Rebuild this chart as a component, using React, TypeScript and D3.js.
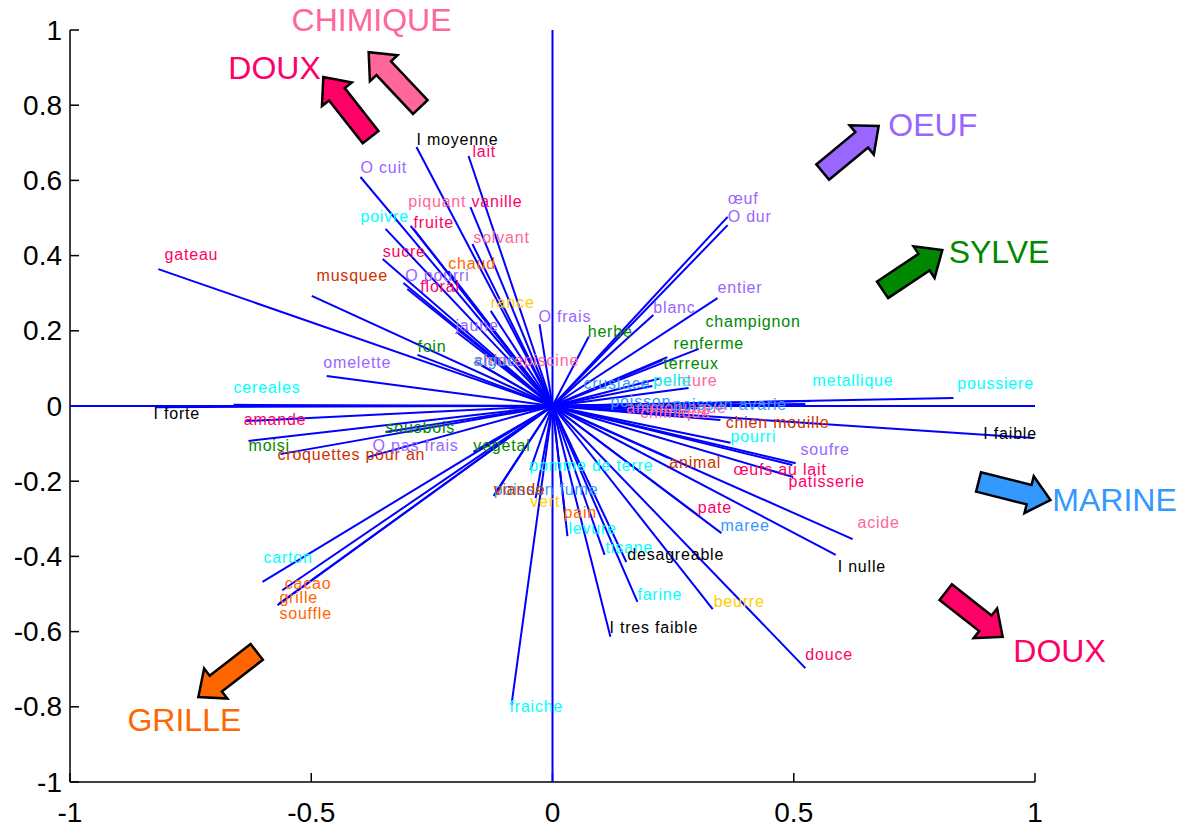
import React from 'react';
import * as d3 from 'd3';

// Odour descriptors per sensory family: vector end (x, y) and label anchor (lx, ly), in loading units
type Term = { term: string; x: number; y: number; lx: number; ly: number };

const oeufTerms: Term[] = [
  { term: 'O cuit', x: -0.398, y: 0.609, lx: -0.398, ly: 0.633 },
  { term: 'O pourri', x: -0.309, y: 0.327, lx: -0.305, ly: 0.346 },
  { term: 'jaune', x: -0.199, y: 0.197, lx: -0.201, ly: 0.215 },
  { term: 'O frais', x: -0.027, y: 0.218, lx: -0.029, ly: 0.237 },
  { term: 'blanc', x: 0.209, y: 0.242, lx: 0.209, ly: 0.263 },
  { term: 'entier', x: 0.342, y: 0.287, lx: 0.342, ly: 0.314 },
  { term: 'œuf', x: 0.363, y: 0.503, lx: 0.363, ly: 0.553 },
  { term: 'O dur', x: 0.363, y: 0.481, lx: 0.363, ly: 0.503 },
  { term: 'omelette', x: -0.468, y: 0.08, lx: -0.475, ly: 0.117 },
  { term: 'O pas frais', x: -0.383, y: -0.136, lx: -0.373, ly: -0.104 },
  { term: 'soufre', x: 0.504, y: -0.152, lx: 0.514, ly: -0.117 },
];

const douxTerms: Term[] = [
  { term: 'lait', x: -0.174, y: 0.665, lx: -0.166, ly: 0.676 },
  { term: 'vanille', x: -0.17, y: 0.529, lx: -0.168, ly: 0.545 },
  { term: 'fruite', x: -0.288, y: 0.471, lx: -0.288, ly: 0.487 },
  { term: 'gateau', x: -0.817, y: 0.364, lx: -0.804, ly: 0.402 },
  { term: 'sucre', x: -0.352, y: 0.391, lx: -0.352, ly: 0.41 },
  { term: 'floral', x: -0.301, y: 0.311, lx: -0.274, ly: 0.319 },
  { term: 'amande', x: -0.636, y: -0.04, lx: -0.64, ly: -0.037 },
  { term: 'œufs au lait', x: 0.497, y: -0.157, lx: 0.375, ly: -0.168 },
  { term: 'patisserie', x: 0.499, y: -0.189, lx: 0.489, ly: -0.202 },
  { term: 'pate', x: 0.301, y: -0.29, lx: 0.301, ly: -0.271 },
  { term: 'douce', x: 0.524, y: -0.697, lx: 0.524, ly: -0.66 },
];

const chimiqueTerms: Term[] = [
  { term: 'piquant', x: -0.294, y: 0.479, lx: -0.299, ly: 0.543 },
  { term: 'solvant', x: -0.166, y: 0.431, lx: -0.164, ly: 0.449 },
  { term: 'chlorepiscine', x: -0.15, y: 0.11, lx: -0.16, ly: 0.122 },
  { term: 'peinture', x: 0.282, y: 0.048, lx: 0.209, ly: 0.069 },
  { term: 'ammoniaque', x: 0.3, y: -0.006, lx: 0.153, ly: -0.003 },
  { term: 'chimique', x: 0.28, y: -0.015, lx: 0.182, ly: -0.016 },
  { term: 'acide', x: 0.622, y: -0.354, lx: 0.632, ly: -0.311 },
];

const sylveTerms: Term[] = [
  { term: 'herbe', x: 0.075, y: 0.184, lx: 0.073, ly: 0.199 },
  { term: 'champignon', x: 0.228, y: 0.122, lx: 0.317, ly: 0.226 },
  { term: 'renferme', x: 0.303, y: 0.152, lx: 0.251, ly: 0.165 },
  { term: 'terreux', x: 0.238, y: 0.13, lx: 0.23, ly: 0.112 },
  { term: 'foin', x: -0.28, y: 0.136, lx: -0.28, ly: 0.157 },
  { term: 'sousbois', x: -0.346, y: -0.069, lx: -0.346, ly: -0.056 },
  { term: 'moisi', x: -0.63, y: -0.093, lx: -0.63, ly: -0.106 },
  { term: 'vegetal', x: -0.164, y: -0.122, lx: -0.164, ly: -0.104 },
];

const marineTerms: Term[] = [
  { term: 'algue', x: -0.16, y: 0.118, lx: -0.164, ly: 0.122 },
  { term: 'crustace', x: 0.207, y: 0.053, lx: 0.064, ly: 0.059 },
  { term: 'poisson', x: 0.182, y: 0.005, lx: 0.12, ly: 0.011 },
  { term: 'poisson avarie', x: 0.524, y: 0.005, lx: 0.249, ly: 0.003 },
  { term: 'maree', x: 0.35, y: -0.338, lx: 0.348, ly: -0.319 },
  { term: 'poisson fume', x: -0.118, y: -0.231, lx: -0.122, ly: -0.223 },
];

const grilleTerms: Term[] = [
  { term: 'chaud', x: -0.216, y: 0.359, lx: -0.216, ly: 0.378 },
  { term: 'pain', x: 0.027, y: -0.298, lx: 0.023, ly: -0.282 },
  { term: 'cacao', x: -0.56, y: -0.49, lx: -0.555, ly: -0.471 },
  { term: 'grille', x: -0.568, y: -0.527, lx: -0.566, ly: -0.508 },
  { term: 'souffle', x: -0.57, y: -0.53, lx: -0.566, ly: -0.551 },
];

const animalTerms: Term[] = [
  { term: 'musquee', x: -0.499, y: 0.293, lx: -0.489, ly: 0.346 },
  { term: 'croquettes pour an', x: -0.564, y: -0.128, lx: -0.57, ly: -0.128 },
  { term: 'chien mouille', x: 0.348, y: -0.037, lx: 0.359, ly: -0.045 },
  { term: 'animal', x: 0.24, y: -0.138, lx: 0.242, ly: -0.149 },
  { term: 'viande', x: -0.122, y: -0.239, lx: -0.122, ly: -0.223 },
];

const poussiereTerms: Term[] = [
  { term: 'poivre', x: -0.346, y: 0.471, lx: -0.398, ly: 0.505 },
  { term: 'cereales', x: -0.661, y: 0.003, lx: -0.661, ly: 0.048 },
  { term: 'metallique', x: 0.535, y: 0.013, lx: 0.539, ly: 0.069 },
  { term: 'poussiere', x: 0.831, y: 0.021, lx: 0.839, ly: 0.061 },
  { term: 'pelle', x: 0.224, y: 0.074, lx: 0.209, ly: 0.069 },
  { term: 'pourri', x: 0.369, y: -0.098, lx: 0.369, ly: -0.08 },
  { term: 'pomme de terre', x: -0.046, y: -0.17, lx: -0.048, ly: -0.157 },
  { term: 'levure', x: 0.031, y: -0.346, lx: 0.033, ly: -0.327 },
  { term: 'tisane', x: 0.108, y: -0.396, lx: 0.11, ly: -0.375 },
  { term: 'carton', x: -0.601, y: -0.468, lx: -0.599, ly: -0.404 },
  { term: 'farine', x: 0.176, y: -0.521, lx: 0.176, ly: -0.5 },
  { term: 'fraiche', x: -0.085, y: -0.795, lx: -0.089, ly: -0.798 },
];

const grasTerms: Term[] = [
  { term: 'rance', x: -0.128, y: 0.253, lx: -0.128, ly: 0.274 },
  { term: 'vert', x: -0.035, y: -0.245, lx: -0.046, ly: -0.255 },
  { term: 'beurre', x: 0.332, y: -0.54, lx: 0.334, ly: -0.521 },
];

const intensiteTerms: Term[] = [
  { term: 'I moyenne', x: -0.282, y: 0.689, lx: -0.282, ly: 0.71 },
  { term: 'I forte', x: -0.823, y: -0.003, lx: -0.827, ly: -0.019 },
  { term: 'I faible', x: 0.997, y: -0.085, lx: 0.893, ly: -0.072 },
  { term: 'I nulle', x: 0.587, y: -0.396, lx: 0.591, ly: -0.428 },
  { term: 'I tres faible', x: 0.12, y: -0.614, lx: 0.118, ly: -0.59 },
  { term: 'desagreable', x: 0.153, y: -0.415, lx: 0.155, ly: -0.396 },
];

// Family arrows: tail and tip in loading units, with their caption
type Family = { name: string; tail: [number, number]; tip: [number, number]; label: [number, number]; anchor: 'start' | 'middle' };
const families: Family[] = [
  { name: 'CHIMIQUE', tail: [-0.274, 0.795], tip: [-0.381, 0.941], label: [-0.375, 1.027], anchor: 'middle' },
  { name: 'DOUX', tail: [-0.377, 0.715], tip: [-0.475, 0.875], label: [-0.576, 0.899], anchor: 'middle' },
  { name: 'OEUF', tail: [0.56, 0.622], tip: [0.676, 0.745], label: [0.696, 0.747], anchor: 'start' },
  { name: 'SYLVE', tail: [0.684, 0.309], tip: [0.808, 0.415], label: [0.821, 0.41], anchor: 'start' },
  { name: 'MARINE', tail: [0.883, -0.202], tip: [1.032, -0.25], label: [1.036, -0.25], anchor: 'start' },
  { name: 'DOUX', tail: [0.815, -0.495], tip: [0.933, -0.614], label: [0.955, -0.652], anchor: 'start' },
  { name: 'GRILLE', tail: [-0.613, -0.654], tip: [-0.734, -0.774], label: [-0.763, -0.835], anchor: 'middle' },
];

const xTicks = [-1, -0.5, 0, 0.5, 1];
const yTicks = [-1, -0.8, -0.6, -0.4, -0.2, 0, 0.2, 0.4, 0.6, 0.8, 1];

const palette: Record<string, string> = {
  OEUF: '#9966ff',
  DOUX: '#ff0066',
  CHIMIQUE: '#ff6699',
  SYLVE: '#008800',
  MARINE: '#3399ff',
  GRILLE: '#ff6600',
  ANIMAL: '#cc3300',
  POUSSIERE: '#00ffff',
  GRAS: '#ffcc00',
  INTENSITE: '#000000',
};

const groups: [string, Term[]][] = [
  ['OEUF', oeufTerms],
  ['DOUX', douxTerms],
  ['CHIMIQUE', chimiqueTerms],
  ['SYLVE', sylveTerms],
  ['MARINE', marineTerms],
  ['GRILLE', grilleTerms],
  ['ANIMAL', animalTerms],
  ['POUSSIERE', poussiereTerms],
  ['GRAS', grasTerms],
  ['INTENSITE', intensiteTerms],
];

const W = 1187;
const H = 829;
const FONT = '"Liberation Sans", Arial, Helvetica, sans-serif';

const x = d3.scaleLinear().domain([-1, 1]).range([70, 1035]);
const y = d3.scaleLinear().domain([-1, 1]).range([782, 30]);

function blockArrow(t: [number, number], p: [number, number]): string {
  const tx = x(t[0]), ty = y(t[1]), px = x(p[0]), py = y(p[1]);
  const dx = px - tx, dy = py - ty;
  const L = Math.hypot(dx, dy);
  const ux = dx / L, uy = dy / L;
  const nx = -uy, ny = ux;
  const w = 10, h = 19, hl = 22;
  const bx = tx + ux * (L - hl), by = ty + uy * (L - hl);
  const pts: [number, number][] = [
    [tx + nx * w, ty + ny * w],
    [bx + nx * w, by + ny * w],
    [bx + nx * h, by + ny * h],
    [px, py],
    [bx - nx * h, by - ny * h],
    [bx - nx * w, by - ny * w],
    [tx - nx * w, ty - ny * w],
  ];
  return d3.line()(pts)! + 'Z';
}

const fmt = (v: number) => (v === 0 ? '0' : String(v));

export default function App() {
  const allTerms = groups.flatMap(([g, list]) => list.map((t) => ({ ...t, group: g })));
  return (
    <svg
      width={W}
      height={H}
      style={{ position: 'absolute', left: 0, top: 0, background: '#fff' }}
      fontFamily={FONT}
    >
      <rect width={W} height={H} fill="#fff" />
      {/* axes */}
      <line x1={x(-1)} x2={x(-1)} y1={y(-1)} y2={y(1)} stroke="#000" strokeWidth={1.5} />
      <line x1={x(-1)} x2={x(1)} y1={y(-1)} y2={y(-1)} stroke="#000" strokeWidth={1.5} />
      {yTicks.map((v) => (
        <g key={'y' + v}>
          <line x1={x(-1)} x2={x(-1) + 9} y1={y(v)} y2={y(v)} stroke="#000" strokeWidth={1.5} />
          <text x={62} y={y(v)} textAnchor="end" dominantBaseline="central" fontSize={28}>
            {fmt(v)}
          </text>
        </g>
      ))}
      {xTicks.map((v) => (
        <g key={'x' + v}>
          <line x1={x(v)} x2={x(v)} y1={y(-1)} y2={y(-1) - 9} stroke="#000" strokeWidth={1.5} />
          <text x={x(v)} y={y(-1) + 30} textAnchor="middle" dominantBaseline="central" fontSize={28}>
            {fmt(v)}
          </text>
        </g>
      ))}
      {/* reference cross */}
      <line x1={x(-1)} x2={x(1)} y1={y(0)} y2={y(0)} stroke="#0000ff" strokeWidth={2} />
      <line x1={x(0)} x2={x(0)} y1={y(-1)} y2={y(1)} stroke="#0000ff" strokeWidth={2} />
      {/* descriptor vectors */}
      {allTerms.map((t, i) => (
        <line key={'v' + i} x1={x(0)} y1={y(0)} x2={x(t.x)} y2={y(t.y)} stroke="#0000ff" strokeWidth={2} />
      ))}
      {allTerms.map((t, i) => (
        <text
          key={'t' + i}
          x={x(t.lx)}
          y={y(t.ly)}
          dominantBaseline="central"
          fontSize={16}
          letterSpacing={0.8}
          fill={palette[t.group]}
        >
          {t.term}
        </text>
      ))}
      {/* family arrows */}
      {families.map((f, i) => (
        <g key={'f' + i}>
          <path d={blockArrow(f.tail, f.tip)} fill={palette[f.name]} stroke="#000" strokeWidth={2.5} strokeLinejoin="miter" />
          <text
            x={x(f.label[0])}
            y={y(f.label[1])}
            textAnchor={f.anchor}
            dominantBaseline="central"
            fontSize={32}
            fill={palette[f.name]}
          >
            {f.name}
          </text>
        </g>
      ))}
    </svg>
  );
}
